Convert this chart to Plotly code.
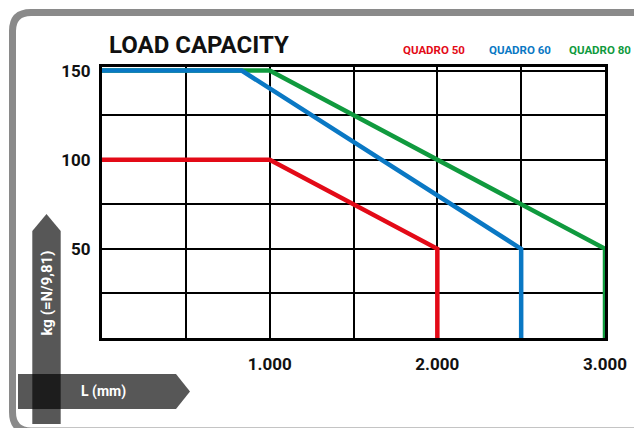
import plotly.graph_objects as go

# ---- data ----
q50_len = [0, 1000, 2000, 2000]
q50_kg = [100, 100, 50, 0]
q60_len = [0, 833, 2500, 2500]
q60_kg = [150, 150, 50, 0]
q80_len = [0, 1000, 3000, 3000]
q80_kg = [150, 150, 50, 0]

x_tickvals = [500, 1000, 1500, 2000, 2500, 3000]
x_ticktext = ["", "1.000", "", "2.000", "", "3.000"]
y_tickvals = [25, 50, 75, 100, 125, 150]
y_ticktext = ["", "50", "", "100", "", "150"]

RED = "#e30a17"
BLUE = "#0a78c4"
GREEN = "#109a3e"

W, H = 634, 428
ML, MR, MT, MB = 102, 29, 67, 90
PW, PH = W - ML - MR, H - MT - MB


def px(x):
    return (x - ML) / PW


def py(y):
    return 1 - (y - MT) / PH


def poly(points):
    s = ""
    for i, (a, b) in enumerate(points):
        s += ("M " if i == 0 else "L ") + f"{px(a):.5f},{py(b):.5f} "
    return s + "Z"


fig = go.Figure()
for xs, ys, c, n in [(q80_len, q80_kg, GREEN, "QUADRO 80"),
                     (q60_len, q60_kg, BLUE, "QUADRO 60"),
                     (q50_len, q50_kg, RED, "QUADRO 50")]:
    fig.add_trace(go.Scatter(x=xs, y=ys, mode="lines", name=n,
                             line=dict(color=c, width=4.5), showlegend=False,
                             hoverinfo="skip"))

font_main = "Roboto, 'Noto Sans', sans-serif"

fig.update_layout(
    width=W, height=H,
    margin=dict(l=ML, r=MR, t=MT, b=MB, pad=0, autoexpand=False),
    paper_bgcolor="white", plot_bgcolor="white",
    xaxis=dict(range=[0, 3000], tickmode="array", tickvals=x_tickvals, ticktext=x_ticktext,
               showgrid=True, gridcolor="black", gridwidth=2, zeroline=False,
               showline=True, linecolor="black", linewidth=3, mirror=True,
               ticks="", ticklabelstandoff=9, automargin=False,
               tickfont=dict(family=font_main, size=17, color="#111", weight="bold")),
    yaxis=dict(range=[0, 152], tickmode="array", tickvals=y_tickvals, ticktext=y_ticktext,
               showgrid=True, gridcolor="black", gridwidth=2, zeroline=False,
               showline=True, linecolor="black", linewidth=3, mirror=True,
               ticks="", ticklabelstandoff=5, automargin=False,
               tickfont=dict(family=font_main, size=17, color="#111", weight="bold")),
)

shapes = []
# outer rounded frame
frame = (f"M {px(660):.5f},{py(431):.5f} L {px(31):.5f},{py(431):.5f} "
         f"Q {px(12.5):.5f},{py(431):.5f} {px(12.5):.5f},{py(412):.5f} "
         f"L {px(12.5):.5f},{py(31):.5f} "
         f"Q {px(12.5):.5f},{py(12.5):.5f} {px(31):.5f},{py(12.5):.5f} "
         f"L {px(660):.5f},{py(12.5):.5f}")
shapes.append(dict(type="path", xref="paper", yref="paper", path=frame,
                   line=dict(color="#8a8a8a", width=7), layer="above"))
# vertical arrow
shapes.append(dict(type="path", xref="paper", yref="paper",
                   path=poly([(32.3, 424), (32.3, 231), (46.5, 214), (60.7, 231), (60.7, 424)]),
                   fillcolor="rgba(0,0,0,0.66)", line=dict(width=0), layer="above"))
# horizontal arrow
shapes.append(dict(type="path", xref="paper", yref="paper",
                   path=poly([(18, 374), (176, 374), (190, 391.5), (176, 409), (18, 409)]),
                   fillcolor="rgba(0,0,0,0.66)", line=dict(width=0), layer="above"))
fig.update_layout(shapes=shapes)

ann = []
ann.append(dict(text="<b>LOAD CAPACITY</b>", x=px(198.5), y=py(45), xref="paper", yref="paper",
                showarrow=False, xanchor="center", yanchor="middle",
                font=dict(family=font_main, size=24, color="#111")))
for label, c, x1 in [("QUADRO 50", RED, 467), ("QUADRO 60", BLUE, 553), ("QUADRO 80", GREEN, 633)]:
    ann.append(dict(text=f"<b>{label}</b>", x=px(x1), y=py(50), xref="paper", yref="paper",
                    showarrow=False, xanchor="right", yanchor="middle",
                    font=dict(family=font_main, size=11.5, color=c)))
ann.append(dict(text="<b>kg (=N/9,81)</b>", x=px(46.5), y=py(293), xref="paper", yref="paper",
                showarrow=False, xanchor="center", yanchor="middle", textangle=-90,
                font=dict(family=font_main, size=15, color="white")))
ann.append(dict(text="<b>L (mm)</b>", x=px(103.5), y=py(391.5), xref="paper", yref="paper",
                showarrow=False, xanchor="center", yanchor="middle",
                font=dict(family=font_main, size=14, color="white")))
fig.update_layout(annotations=ann)

fig.write_html("out.html", config={"displayModeBar": False},
               post_script="document.body.style.margin='0px';document.body.style.overflow='hidden';")
